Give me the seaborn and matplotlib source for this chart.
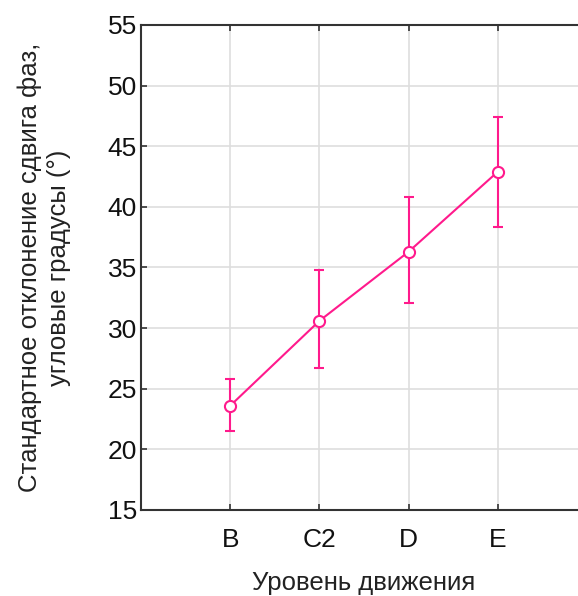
import numpy as np
import pandas as pd
import matplotlib
matplotlib.use("Agg")
import matplotlib.pyplot as plt
import seaborn as sns

# === DATA ===
levels = ["B", "C2", "D", "E"]
mean_sd = [23.6, 30.6, 36.3, 42.9]
ci_low = [21.5, 26.7, 32.1, 38.3]
ci_high = [25.8, 34.8, 40.8, 47.4]

PINK = "#ff1a8c"

sns.set_style("whitegrid")
plt.rcParams["font.family"] = ["Liberation Sans", "DejaVu Sans"]

df = pd.DataFrame({"level": levels, "sd": mean_sd, "lo": ci_low, "hi": ci_high})

fig = plt.figure(figsize=(5.78, 5.96), dpi=100)
ax = fig.add_axes([0.244, 0.1443, 0.7716, 0.8138])

sns.lineplot(data=df, x="level", y="sd", ax=ax, color=PINK, linewidth=1.5,
             marker="o", markersize=8, markerfacecolor="white",
             markeredgecolor=PINK, markeredgewidth=1.5, zorder=3)
x_pos = np.arange(len(levels))
ax.errorbar(x_pos, df["sd"],
            yerr=[df["sd"] - df["lo"], df["hi"] - df["sd"]],
            fmt="none", ecolor=PINK, elinewidth=1.5, capsize=3.5, capthick=1.5, zorder=2)

ax.set_xlim(-1, 4)
ax.set_ylim(15, 55)
ax.set_yticks(np.arange(15, 56, 5))
ax.grid(True, color="#dedede", linewidth=1.2)
for side in ["left", "bottom", "top", "right"]:
    ax.spines[side].set_color("#333333")
    ax.spines[side].set_linewidth(1.5)

ax.tick_params(axis="both", direction="in", length=4, width=1.2, color="#333333",
               labelsize=19, top=True, left=True, bottom=True, right=False,
               labelcolor="#111111")
ax.tick_params(axis="x", pad=13)
ax.tick_params(axis="y", pad=3)
ax.set_xlabel("Уровень движения", fontsize=18.5, labelpad=14, color="#222222")
ax.set_ylabel("Стандартное отклонение сдвига фаз,\nугловые градусы (°)", fontsize=18.5,
              labelpad=26, color="#222222", linespacing=1.3)

plt.savefig("out.png", dpi=100)
